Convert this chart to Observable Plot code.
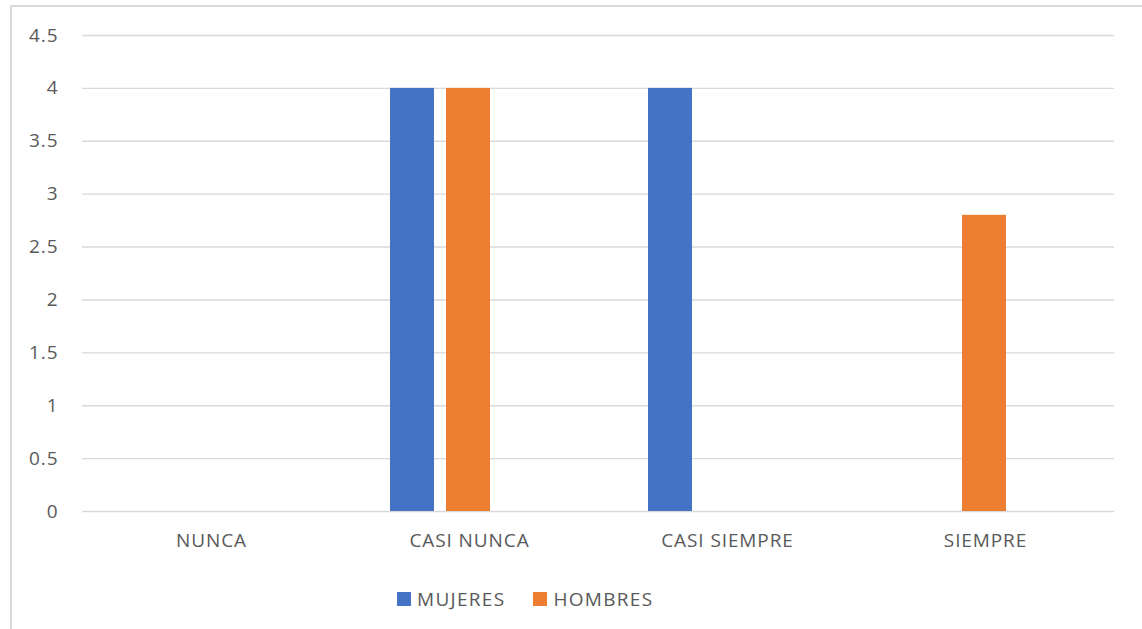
<!DOCTYPE html>
<html>
<head>
<meta charset="utf-8">
<script src="https://cdn.jsdelivr.net/npm/d3@7"></script>
<script src="https://cdn.jsdelivr.net/npm/@observablehq/plot@0.6"></script>
<style>
  html, body { margin: 0; padding: 0; background: #fff; }
  body { width: 1142px; height: 629px; overflow: hidden; position: relative; font-family: "Open Sans", sans-serif; }
  #frame { position: absolute; left: 10px; top: 5px; width: 1200px; height: 700px;
           border-left: 2px solid #d9d9d9; border-top: 2px solid #d9d9d9; pointer-events: none; }
  #chart { position: absolute; left: 0; top: 0; }
  #chart svg text { letter-spacing: 0.9px; }
  #legend { position: absolute; left: 397px; top: 586px; display: flex; align-items: center;
            font-size: 19px; color: #595959; letter-spacing: 1.3px; }
  .key { display: flex; align-items: center; margin-right: 28px; }
  .swatch { width: 14px; height: 14px; margin-right: 6px; }
</style>
</head>
<body>
<div id="chart"></div>
<div id="legend"></div>
<div id="frame"></div>
<script>
// Frequency of responses by group
const categories = ["NUNCA", "CASI NUNCA", "CASI SIEMPRE", "SIEMPRE"];
const series = ["MUJERES", "HOMBRES"];
const mujeres = [0, 4, 4, 0];
const hombres = [0, 4, 0, 2.8];
const yTicks = [0, 0.5, 1, 1.5, 2, 2.5, 3, 3.5, 4, 4.5];
const colors = ["#4472C4", "#ED7D31"];

const rows = [];
categories.forEach((c, i) => {
  rows.push({categoria: c, grupo: series[0], valor: mujeres[i]});
  rows.push({categoria: c, grupo: series[1], valor: hombres[i]});
});

const textColor = "#595959";

const chart = Plot.plot({
  width: 1142,
  height: 565,
  marginLeft: 81,
  marginRight: 27,
  marginTop: 35,
  marginBottom: 54,
  style: {fontFamily: "'Open Sans', sans-serif", fontSize: "19px", color: textColor, background: "transparent"},
  fx: {domain: categories, padding: 0, label: null},
  x: {domain: series, paddingInner: 0.2105, paddingOuter: 1.374, align: 0.317, axis: null},
  y: {domain: [0, 4.5], label: null},
  color: {domain: series, range: colors},
  marks: [
    Plot.ruleY(yTicks, {stroke: "#d9d9d9", strokeWidth: 1.4}),
    Plot.barY(rows, {fx: "categoria", x: "grupo", y: "valor", fill: "grupo"}),
    Plot.axisY(yTicks, {tickSize: 0, tickPadding: 24, tickFormat: d => String(d), label: null, fill: textColor}),
    Plot.axisFx({anchor: "bottom", tickSize: 0, tickPadding: 22, label: null, fill: textColor})
  ]
});
document.getElementById("chart").appendChild(chart);

const legend = document.getElementById("legend");
series.forEach((s, i) => {
  const key = document.createElement("div");
  key.className = "key";
  const sw = document.createElement("div");
  sw.className = "swatch";
  sw.style.background = colors[i];
  const label = document.createElement("span");
  label.textContent = s;
  key.appendChild(sw);
  key.appendChild(label);
  legend.appendChild(key);
});
</script>
</body>
</html>
